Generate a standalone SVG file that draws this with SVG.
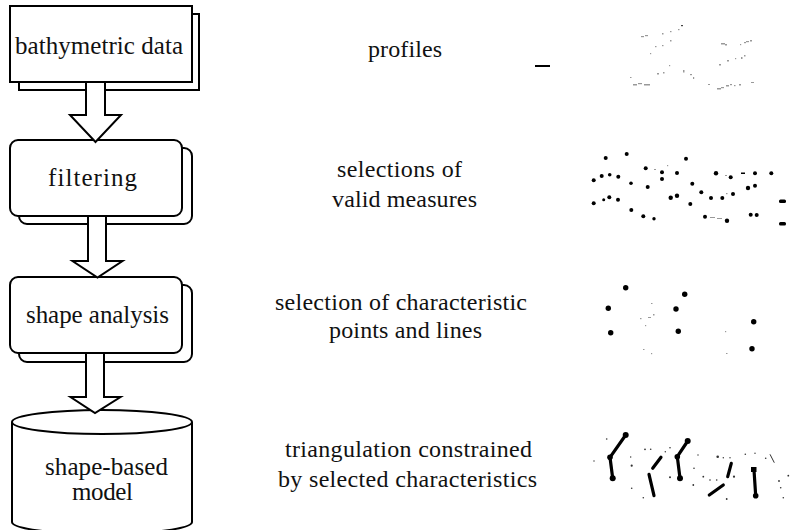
<svg xmlns="http://www.w3.org/2000/svg" width="797" height="530" viewBox="0 0 797 530">
<style>
.box{fill:#fff;stroke:#000;stroke-width:2}
.arr{fill:#fff;stroke:#000;stroke-width:2;stroke-linejoin:miter}
.lbl{font-family:"Liberation Serif","Times New Roman",serif;font-size:25px;fill:#111}
.mid{font-family:"Liberation Serif","Times New Roman",serif;font-size:24px;fill:#111}
.dot{fill:#000}
.fd{fill:#333}
.gd{fill:#999}
.thk{stroke:#000;stroke-width:3.2;stroke-linecap:round;fill:none}
</style>
<rect width="797" height="530" fill="#fff"/>

<g id="node-bathymetric">
<rect class="box" x="19" y="14" width="180" height="76"/>
<rect class="box" x="10" y="6" width="182" height="76"/>
<text class="lbl" x="15" y="54" textLength="168" lengthAdjust="spacing">bathymetric data</text>
</g>

<g id="node-filtering">
<rect class="box" x="19" y="148" width="173" height="76" rx="8"/>
<rect class="box" x="10" y="140" width="172" height="76" rx="8"/>
<text class="lbl" x="48" y="186" textLength="89" lengthAdjust="spacing">filtering</text>
</g>

<g id="node-shape-analysis">
<rect class="box" x="19" y="285" width="173" height="77" rx="8"/>
<rect class="box" x="10" y="277" width="172" height="76" rx="8"/>
<text class="lbl" x="26" y="323" textLength="143" lengthAdjust="spacing">shape analysis</text>
</g>

<g id="node-model">
<path class="box" d="M12,422 L12,522 A90,12 0 0 0 192,522 L192,422"/>
<ellipse class="box" cx="102" cy="422" rx="90" ry="12"/>
<text class="lbl" x="45" y="475" textLength="123" lengthAdjust="spacing">shape-based</text>
<text class="lbl" x="72" y="500" textLength="61" lengthAdjust="spacing">model</text>
</g>

<g id="connectors">
<polygon class="arr" points="86,82 105,82 105,115 121,115 95.5,142 70,115 86,115"/>
<polygon class="arr" points="88,216 106,216 106,261 122.5,261 97.5,277.5 72.5,261 88,261"/>
<polygon class="arr" points="86,353 104,353 104,397 120.5,397 95,413 70.5,397 86,397"/>
</g>

<g id="labels">
<text class="mid" x="368" y="57" textLength="74" lengthAdjust="spacing">profiles</text>
<text class="mid" x="337" y="177" textLength="125" lengthAdjust="spacing">selections of</text>
<text class="mid" x="332" y="207" textLength="145" lengthAdjust="spacing">valid measures</text>
<text class="mid" x="275" y="310" textLength="252" lengthAdjust="spacing">selection of characteristic</text>
<text class="mid" x="329" y="338" textLength="153" lengthAdjust="spacing">points and lines</text>
<text class="mid" x="285" y="457" textLength="247" lengthAdjust="spacing">triangulation constrained</text>
<text class="mid" x="278" y="487" textLength="259" lengthAdjust="spacing">by selected characteristics</text>
</g>

<g id="illus-profiles">
<rect x="535" y="65" width="15" height="2" fill="#000"/>
<g class="gd">
<rect x="641" y="36" width="3" height="1.2"/><rect x="645" y="35" width="3" height="1.2"/>
<rect x="662" y="33" width="1.5" height="1.5"/><rect x="670" y="31" width="1.5" height="1.2"/>
<rect x="678" y="29" width="1.5" height="1.2"/><rect x="681" y="25" width="2" height="1.2" fill="#444"/>
<rect x="670" y="40" width="1.5" height="1.5"/><rect x="662" y="45" width="1.5" height="1.2"/>
<rect x="655" y="46" width="1.5" height="1.2"/><rect x="650" y="53" width="1.2" height="1.2"/>
<rect x="630" y="77" width="1.5" height="1"/><rect x="633" y="84" width="4" height="1.5"/>
<rect x="638" y="83" width="4" height="1.2"/><rect x="644" y="84" width="6" height="1.5"/>
<rect x="657" y="73" width="2" height="1.5"/><rect x="663" y="72" width="1.5" height="1.5"/>
<rect x="669" y="65" width="1.2" height="1.2"/><rect x="683" y="70" width="1.5" height="2.5"/>
<rect x="690" y="74" width="2" height="1.2"/><rect x="693" y="77" width="1.2" height="2"/>
<rect x="721" y="43" width="4" height="1.5"/><rect x="725" y="44" width="2" height="1.5"/>
<rect x="740" y="44" width="1.2" height="1.2"/><rect x="744" y="42" width="2" height="1.2"/>
<rect x="746" y="41" width="3" height="1.2"/><rect x="750" y="40" width="2" height="1.5"/>
<rect x="744" y="55" width="1.5" height="1.5"/><rect x="741" y="57" width="1.5" height="2"/>
<rect x="735" y="58" width="1.2" height="1.2"/><rect x="727" y="60" width="2" height="1.5"/>
<rect x="719" y="64" width="2" height="1.5"/><rect x="708" y="84" width="2" height="1"/>
<rect x="717" y="88" width="4" height="1.5"/><rect x="721" y="87" width="3" height="1.2"/>
<rect x="726" y="85" width="3" height="1.5"/><rect x="730" y="84" width="2" height="1.2"/>
<rect x="734" y="85" width="1.5" height="1.2"/><rect x="739" y="84" width="2" height="1.5"/>
<rect x="751" y="82" width="3" height="1"/>
</g>
</g>

<g id="illus-measures" class="dot">
<circle cx="605.7" cy="158" r="2"/><circle cx="626.7" cy="154" r="2"/><circle cx="686" cy="158.7" r="2"/>
<circle cx="593.7" cy="180.3" r="2"/><circle cx="601.7" cy="176" r="2"/><circle cx="609.7" cy="174.7" r="1.8"/>
<circle cx="618.3" cy="176.7" r="2"/><circle cx="631" cy="183.3" r="1.8"/><circle cx="645.7" cy="168.3" r="2"/>
<circle cx="662" cy="172.3" r="2"/><circle cx="662" cy="179" r="2"/><circle cx="677" cy="173" r="2"/>
<circle cx="647.7" cy="187" r="2"/><circle cx="692.3" cy="183.7" r="2"/><circle cx="716" cy="173.3" r="2.2"/>
<circle cx="730.7" cy="177.3" r="2"/><rect x="741" y="172.5" width="4" height="1.5"/><circle cx="755" cy="173.3" r="2"/>
<circle cx="771.3" cy="173.3" r="2"/>
<circle cx="593.7" cy="203.3" r="2"/><circle cx="603.7" cy="199.7" r="1.5"/><circle cx="609.3" cy="197.3" r="2"/>
<circle cx="618" cy="199.7" r="2"/><circle cx="631.3" cy="210" r="2"/><circle cx="643.3" cy="216.3" r="2"/>
<circle cx="654" cy="218.7" r="1.7"/><circle cx="670.7" cy="197.7" r="2.2"/><circle cx="677" cy="195.7" r="2.2"/>
<circle cx="690.3" cy="204" r="2"/><circle cx="701.3" cy="192.3" r="2"/><circle cx="711" cy="198" r="2"/>
<circle cx="722.3" cy="198" r="2"/><circle cx="733" cy="194" r="2"/><circle cx="748" cy="188" r="2.2"/>
<circle cx="755" cy="185.7" r="2"/><circle cx="705" cy="216.7" r="2"/><circle cx="727" cy="220.7" r="2.2"/>
<circle cx="750.7" cy="214.7" r="2"/><circle cx="756.7" cy="215" r="2"/>
<rect x="779" y="199.5" width="7" height="3.5" rx="1.5"/><rect x="779" y="222" width="7" height="3.5" rx="1.5"/>
<g class="gd"><rect x="654" y="169" width="2" height="1"/><rect x="667" y="165" width="1.2" height="1.2"/>
<rect x="710" y="217" width="5" height="1"/><rect x="717" y="218" width="5" height="1"/>
<rect x="726" y="193" width="1.5" height="1.2"/><rect x="725" y="175" width="2" height="1"/></g>
</g>

<g id="illus-characteristic">
<g class="dot">
<circle cx="625.7" cy="287.7" r="2.7"/><circle cx="684.7" cy="294.3" r="2.7"/><circle cx="608.3" cy="308.3" r="2.7"/>
<circle cx="676" cy="309" r="2.7"/><circle cx="610.7" cy="332.7" r="2.7"/><circle cx="678.3" cy="331.3" r="2.7"/>
<circle cx="753.7" cy="321.7" r="2.7"/><circle cx="752" cy="348.7" r="2.7"/>
</g>
<g class="gd">
<rect x="651" y="303" width="1.5" height="1"/><rect x="653" y="314" width="1.5" height="1.5"/>
<rect x="648" y="317" width="3" height="1"/><rect x="640" y="318" width="1.5" height="1.2"/>
<rect x="645" y="325" width="1.2" height="1.2"/><rect x="651" y="353" width="1.2" height="1.2"/>
<rect x="643" y="349" width="1.5" height="1"/><rect x="725" y="331" width="1.2" height="1.2"/>
<rect x="726" y="353" width="1.5" height="1"/>
</g>
</g>

<g id="illus-triangulation">
<polyline class="thk" points="625.7,435 610,457.3 612.7,478.3"/>
<line class="thk" x1="661" y1="457.3" x2="652.7" y2="468.3"/>
<line class="thk" x1="649" y1="474.3" x2="654" y2="495.7"/>
<polyline class="thk" points="687.7,441 677.3,456.7 680,478.3"/>
<line class="thk" x1="731.3" y1="463.3" x2="727.7" y2="476.7"/>
<line class="thk" x1="723.3" y1="485" x2="709.3" y2="495"/>
<line class="thk" x1="754" y1="470" x2="755.7" y2="495.7"/>
<line x1="770" y1="454.3" x2="774.3" y2="462.7" stroke="#333" stroke-width="1"/>
<g class="dot">
<circle cx="625.7" cy="435" r="3"/><circle cx="610" cy="457.3" r="2.8"/><circle cx="612.7" cy="478.3" r="3"/>
<circle cx="687.7" cy="441" r="3"/><circle cx="677.3" cy="456.7" r="2.8"/><circle cx="680" cy="478.3" r="3"/>
<rect x="751" y="467" width="5.5" height="5"/><circle cx="755.7" cy="495.7" r="2.8"/>
</g>
<g class="fd">
<circle cx="606.7" cy="439" r="0.8"/><circle cx="594" cy="461" r="0.7"/><circle cx="631.7" cy="465.7" r="1.1"/>
<circle cx="631.7" cy="488.3" r="0.8"/><circle cx="645" cy="449.3" r="0.9"/><circle cx="650.7" cy="449.3" r="0.8"/>
<circle cx="670" cy="447.7" r="0.8"/><circle cx="670" cy="477.3" r="1"/><circle cx="665.3" cy="451.7" r="0.7"/>
<circle cx="693.3" cy="485" r="0.9"/><circle cx="694" cy="468.3" r="0.8"/><circle cx="703.3" cy="476.7" r="0.9"/>
<circle cx="710" cy="480" r="0.8"/><circle cx="716.7" cy="480" r="0.8"/><circle cx="717.7" cy="456.7" r="1.3"/>
<circle cx="734" cy="476.7" r="1.1"/><circle cx="726.7" cy="499" r="0.9"/><circle cx="745.3" cy="454.3" r="0.8"/>
<circle cx="755" cy="453.3" r="0.7"/><circle cx="765.7" cy="458.3" r="0.8"/><circle cx="779" cy="481" r="0.9"/>
<circle cx="780.7" cy="487.7" r="0.8"/><circle cx="788.3" cy="475.7" r="0.9"/><circle cx="783.3" cy="497.7" r="0.8"/>
<circle cx="643.3" cy="497.7" r="0.8"/><circle cx="723.3" cy="457.7" r="0.7"/><circle cx="730" cy="457.7" r="0.7"/>
<circle cx="630.7" cy="457" r="0.7"/><circle cx="698" cy="455" r="0.7"/>
</g>
</g>
</svg>
